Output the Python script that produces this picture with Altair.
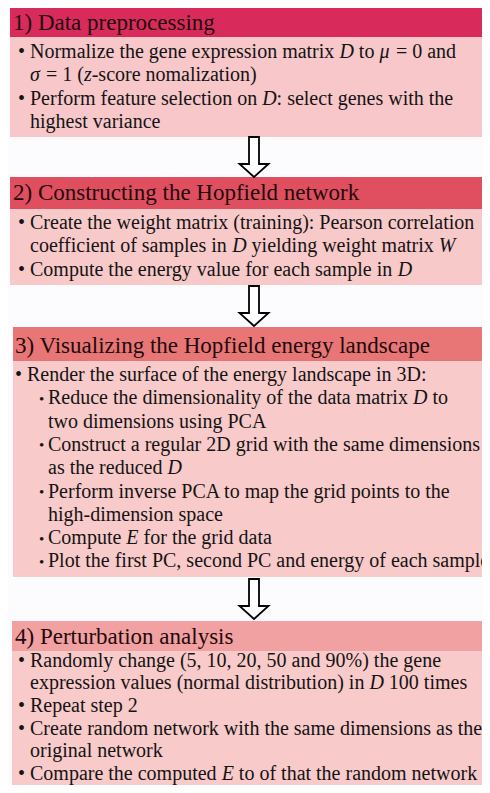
import altair as alt
import pandas as pd

# ---------------- content ----------------
titles = [
    "1) Data preprocessing",
    "2) Constructing the Hopfield network",
    "3) Visualizing the Hopfield energy landscape",
    "4) Perturbation analysis",
]
header_colors = ["#d92b5b", "#e04f60", "#e87676", "#f1a1a1"]
body_colors = ["#f7c7ca", "#f8c9c9", "#f8caca", "#f8caca"]

# level: b = bullet, c = continuation, sb = sub-bullet, sc = sub continuation
# *x* marks italic runs
step1 = [
    ("b", "Normalize the gene expression matrix *D* to *μ* = 0 and"),
    ("c", "*σ* = 1 (*z*-score nomalization)"),
    ("b", "Perform feature selection on *D*: select genes with the"),
    ("c", "highest variance"),
]
step2 = [
    ("b", "Create the weight matrix (training): Pearson correlation"),
    ("c", "coefficient of samples in *D* yielding weight matrix *W*"),
    ("b", "Compute the energy value for each sample in *D*"),
]
step3 = [
    ("b", "Render the surface of the energy landscape in 3D:"),
    ("sb", "Reduce the dimensionality of the data matrix *D* to"),
    ("sc", "two dimensions using PCA"),
    ("sb", "Construct a regular 2D grid with the same dimensions"),
    ("sc", "as the reduced *D*"),
    ("sb", "Perform inverse PCA to map the grid points to the"),
    ("sc", "high-dimension space"),
    ("sb", "Compute *E* for the grid data"),
    ("sb", "Plot the first PC, second PC and energy of each sample"),
]
step4 = [
    ("b", "Randomly change (5, 10, 20, 50 and 90%) the gene"),
    ("c", "expression values (normal distribution) in *D* 100 times"),
    ("b", "Repeat step 2"),
    ("b", "Create random network with the same dimensions as the"),
    ("c", "original network"),
    ("b", "Compare the computed *E* to of that the random network"),
]
steps = [step1, step2, step3, step4]

# ---------------- layout (reference pixel space) ----------------
W, H = 474, 777
OFF = 8
BOX_X0 = [10, 10, 13, 12]
BOX_X1 = [486, 486, 490, 486]
HEAD_TOP = [7, 177, 327, 621]
HEAD_BOT = [37, 209, 361, 651]
BODY_BOT = [137, 285, 577, 800]
TITLE_X = [13, 13, 15, 15]
TITLE_BASE = [30, 200, 353, 644]
FIRST_BASE = [58, 229, 381, 666.5]
LINE_H = [23.3, 23.3, 23.3, 22.7]
TEXT_X = [30, 30, 27, 30]
SUB_X = 48
FS = 20
TFS = 23
FONT = "Liberation Serif"
ARROW_X = 254
ARROW_SIDE = 40

# Times (Liberation Serif) advance widths, per 1000 em
ROMAN = {" ": 250, "(": 333, ")": 333, ",": 250, "-": 333, ".": 250, ":": 278,
         "=": 564, "%": 833, "μ": 576, "σ": 549}
for ch in "0123456789":
    ROMAN[ch] = 500
ROMAN.update(dict(zip("ABCDEFGHIJKLMNOPQRSTUVWXYZ",
                      [722, 667, 667, 722, 611, 556, 722, 722, 333, 389, 722, 611, 889,
                       722, 722, 556, 722, 667, 556, 611, 722, 722, 944, 722, 722, 611])))
ROMAN.update(dict(zip("abcdefghijklmnopqrstuvwxyz",
                      [444, 500, 444, 500, 444, 333, 500, 500, 278, 278, 500, 278, 778,
                       500, 500, 500, 500, 333, 389, 278, 500, 500, 722, 500, 500, 444])))
ITALIC = dict(ROMAN)
ITALIC.update({"D": 722, "E": 611, "W": 833, "z": 389, "μ": 576, "σ": 549})


def width(s, table):
    return sum(table.get(c, 500) for c in s) * FS / 1000.0


rows = []
bullets = []
for i, lines in enumerate(steps):
    for k, (lvl, txt) in enumerate(lines):
        base = FIRST_BASE[i] + k * LINE_H[i]
        x = SUB_X if lvl in ("sb", "sc") else TEXT_X[i]
        if lvl == "b":
            bullets.append({"x": x - 12, "y": base, "t": "•", "sub": False})
        elif lvl == "sb":
            bullets.append({"x": x - 9, "y": base - 0.5, "t": "•", "sub": True})
        parts = txt.split("*")
        for j, p in enumerate(parts):
            ital = j % 2 == 1
            tab = ITALIC if ital else ROMAN
            lead = len(p) - len(p.lstrip(" "))
            content = p.strip(" ")
            if content:
                rows.append({"x": x + width(p[:lead], tab), "y": base,
                             "t": content, "italic": ital})
            x += width(p, tab)

text_df = pd.DataFrame(rows)
bul_df = pd.DataFrame(bullets)
head_df = pd.DataFrame({"x0": BOX_X0, "x1": BOX_X1, "y0": HEAD_TOP, "y1": HEAD_BOT,
                        "c": header_colors})
body_df = pd.DataFrame({"x0": BOX_X0, "x1": BOX_X1, "y0": HEAD_BOT, "y1": BODY_BOT,
                        "c": body_colors})
title_df = pd.DataFrame({"x": TITLE_X, "y": TITLE_BASE, "t": titles})
arrow_df = pd.DataFrame({
    "x": [ARROW_X] * 3,
    "y": [(BODY_BOT[i] + HEAD_TOP[i + 1]) / 2.0 for i in range(3)],
})

xs = alt.Scale(domain=[OFF, OFF + W], nice=False, zero=False)
ys = alt.Scale(domain=[OFF, OFF + H], reverse=True, nice=False, zero=False)
X = lambda f: alt.X(f, type="quantitative", scale=xs, axis=None)
Y = lambda f: alt.Y(f, type="quantitative", scale=ys, axis=None)

rect_enc = dict(x=X("x0"), x2="x1", y=Y("y0"), y2="y1",
                color=alt.Color("c:N", scale=None, legend=None))
bodies = alt.Chart(body_df).mark_rect().encode(**rect_enc)
heads = alt.Chart(head_df).mark_rect().encode(**rect_enc)

title_txt = alt.Chart(title_df).mark_text(
    align="left", baseline="alphabetic", font=FONT, fontSize=TFS, color="#1f0a0c"
).encode(x=X("x"), y=Y("y"), text="t:N")

roman_txt = alt.Chart(text_df[~text_df["italic"]]).mark_text(
    align="left", baseline="alphabetic", font=FONT, fontSize=FS, color="#141414"
).encode(x=X("x"), y=Y("y"), text="t:N")

italic_txt = alt.Chart(text_df[text_df["italic"]]).mark_text(
    align="left", baseline="alphabetic", font=FONT, fontSize=FS, fontStyle="italic",
    color="#141414"
).encode(x=X("x"), y=Y("y"), text="t:N")

bul_main = alt.Chart(bul_df[~bul_df["sub"]]).mark_text(
    align="left", baseline="alphabetic", font=FONT, fontSize=FS, color="#141414"
).encode(x=X("x"), y=Y("y"), text="t:N")
bul_sub = alt.Chart(bul_df[bul_df["sub"]]).mark_text(
    align="left", baseline="alphabetic", font=FONT, fontSize=15, color="#141414"
).encode(x=X("x"), y=Y("y"), text="t:N")

ARROW_PATH = ("M -0.25 -1 L 0.25 -1 L 0.25 0.35 L 0.725 0.35 L 0 1 "
              "L -0.725 0.35 L -0.25 0.35 Z")
arrows = alt.Chart(arrow_df).mark_point(
    shape=ARROW_PATH, size=ARROW_SIDE * ARROW_SIDE, filled=True, fill="white",
    stroke="black", strokeWidth=1.8, opacity=1
).encode(x=X("x"), y=Y("y"))

chart = alt.layer(
    bodies, heads, arrows, title_txt, roman_txt, italic_txt, bul_main, bul_sub
).properties(
    width=W, height=H, padding=0, autosize=alt.AutoSizeParams(type="none"),
    background="#fcfcfe"
).configure_view(stroke=None)

chart.save("out.html", embed_options={"renderer": "svg", "actions": False})
